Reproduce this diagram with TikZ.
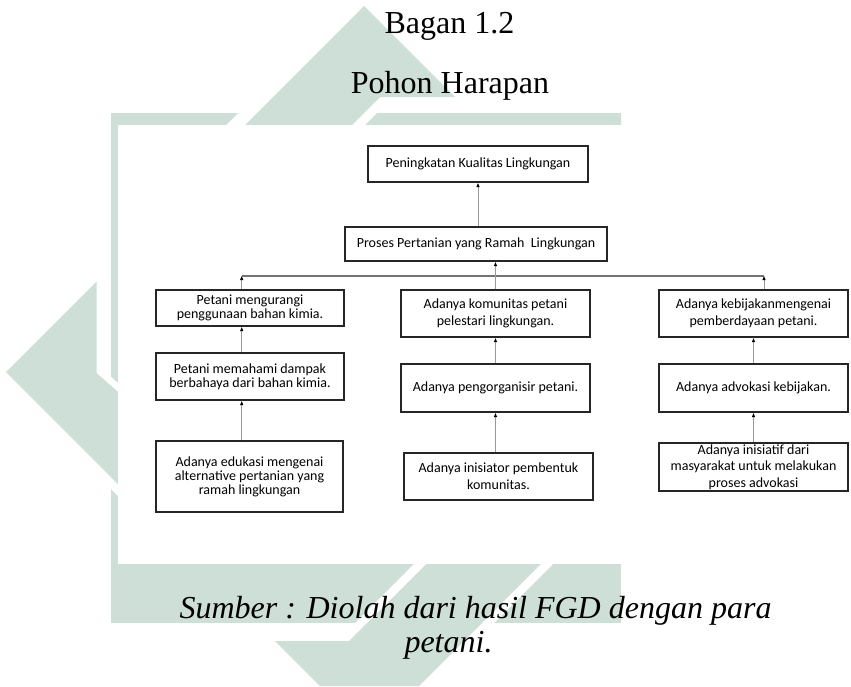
\documentclass[tikz,border=0pt]{standalone}
\usepackage{fontspec}
\setmainfont{Liberation Serif}
\newfontfamily\boxfont{Carlito}
\usetikzlibrary{arrows.meta}
\definecolor{wmark}{RGB}{205,223,214}
\tikzset{
	box/.style={draw=black!85,line width=1.1pt,fill=white,align=center,inner sep=0pt,font=\boxfont\fontsize{14}{16.7}\selectfont},
	lcol/.style={font=\boxfont\fontsize{14}{14}\selectfont},
	link/.style={draw=black!40,line width=1pt,-{Latex[length=4.5pt,width=3.5pt,color=black]}},
	bus/.style={draw=black!55,line width=2pt},
	caption/.style={font=\fontsize{32}{38}\selectfont,anchor=base},
	source/.style={font=\fontsize{32}{38}\selectfont\itshape,anchor=base west}
}
\begin{document}
\begin{tikzpicture}[x=1pt,y=-1pt]
	\useasboundingbox (0,0) rectangle (851,686);
	% watermark
	\fill [wmark] (111,113) -- (238,113) -- (226,125) -- (111,125) -- cycle;
	\fill [wmark] (364,6) -- (455,97) -- (380,97) -- (352,125) -- (245,125) -- cycle;
	\fill [wmark] (377,113) -- (621,113) -- (621,125) -- (365,125) -- cycle;
	\fill [wmark] (111,113) rectangle (118,623);
	\fill [white] (96.6,364) -- (118,383) -- (118,392) -- (96.6,373) -- cycle;
	\fill [white] (111,477) -- (118,484) -- (118,496) -- (111,489) -- cycle;
	\fill [wmark] (96.6,281.4) -- (6,372) -- (118,484) -- (118,392) -- (96.6,373) -- cycle;
	\fill [wmark] (111,564) rectangle (621,623);
	\fill [wmark] (275,641) -- (349,641) -- (426,564) -- (541,564) -- (419,686) -- (320,686) -- cycle;
	\fill [white] (414,564) -- (426,564) -- (367,623) -- (355,623) -- cycle;
	\fill [white] (541,564) -- (553,564) -- (494,623) -- (482,623) -- cycle;
	\fill [white] (118,125) rectangle (851,564);
	% titles
	\node [caption] (bagan) at (449.5,33) {Bagan 1.2};
	\node [caption] (pohon) at (450,93) {Pohon Harapan};
	\node [source] (sumber) at (176,618) {Sumber : Diolah dari hasil FGD dengan para};
	\node [source] (petani) at (401,652) {petani.};
	% boxes
	\node [box,minimum width=220pt,minimum height=36pt] (top) at (478,164) {Peningkatan Kualitas Lingkungan};
	\node [box,minimum width=262pt,minimum height=34pt] (proses) at (476,244) {Proses Pertanian yang Ramah\ \ Lingkungan};
	\node [box,lcol,minimum width=188pt,minimum height=36pt] (lA) at (250,308) {Petani mengurangi\\penggunaan bahan kimia.};
	\node [box,lcol,minimum width=188pt,minimum height=47pt] (lB) at (250,376.5) {Petani memahami dampak\\berbahaya dari bahan kimia.};
	\node [box,lcol,minimum width=187pt,minimum height=71pt] (lC) at (249.5,476.5) {Adanya edukasi mengenai\\alternative pertanian yang\\ramah lingkungan};
	\node [box,minimum width=189pt,minimum height=47pt] (mA) at (495.5,313.5) {Adanya komunitas petani\\pelestari lingkungan.};
	\node [box,minimum width=189pt,minimum height=48pt] (mB) at (495.5,388) {Adanya pengorganisir petani.};
	\node [box,minimum width=189pt,minimum height=47pt] (mC) at (498.5,476.5) {Adanya inisiator pembentuk\\komunitas.};
	\node [box,minimum width=189pt,minimum height=47pt] (rA) at (753.5,313.5) {Adanya kebijakanmengenai\\pemberdayaan petani.};
	\node [box,minimum width=189pt,minimum height=48pt] (rB) at (753.5,388) {Adanya advokasi kebijakan.};
	\node [box,minimum width=189pt,minimum height=48pt] (rC) at (753.5,467) {Adanya inisiatif dari\\masyarakat untuk melakukan\\proses advokasi};
	% connectors
	\coordinate (brL) at (241.7,275.5);
	\coordinate (brM) at (495.5,275.5);
	\coordinate (brR) at (764,275.5);
	\draw [link] (top.south |- proses.north) -- (top.south);
	\draw [bus] (brL) -- (brR);
	\draw [link] (brM) -- (brM |- proses.south);
	\draw [link] (lA.north -| brL) -- (brL);
	\draw [link] (rA.north -| brR) -- (brR);
	\draw [draw=black!40,line width=1pt] (mA.north -| brM) -- (brM);
	\draw [link] (lB.north -| brL) -- (lA.south -| brL);
	\draw [link] (lC.north -| brL) -- (lB.south -| brL);
	\draw [link] (mB.north -| brM) -- (mA.south -| brM);
	\draw [link] (mC.north -| brM) -- (mB.south -| brM);
	\draw [link] (rB.north) -- (rA.south);
	\draw [link] (rC.north) -- (rB.south);
\end{tikzpicture}
\end{document}
